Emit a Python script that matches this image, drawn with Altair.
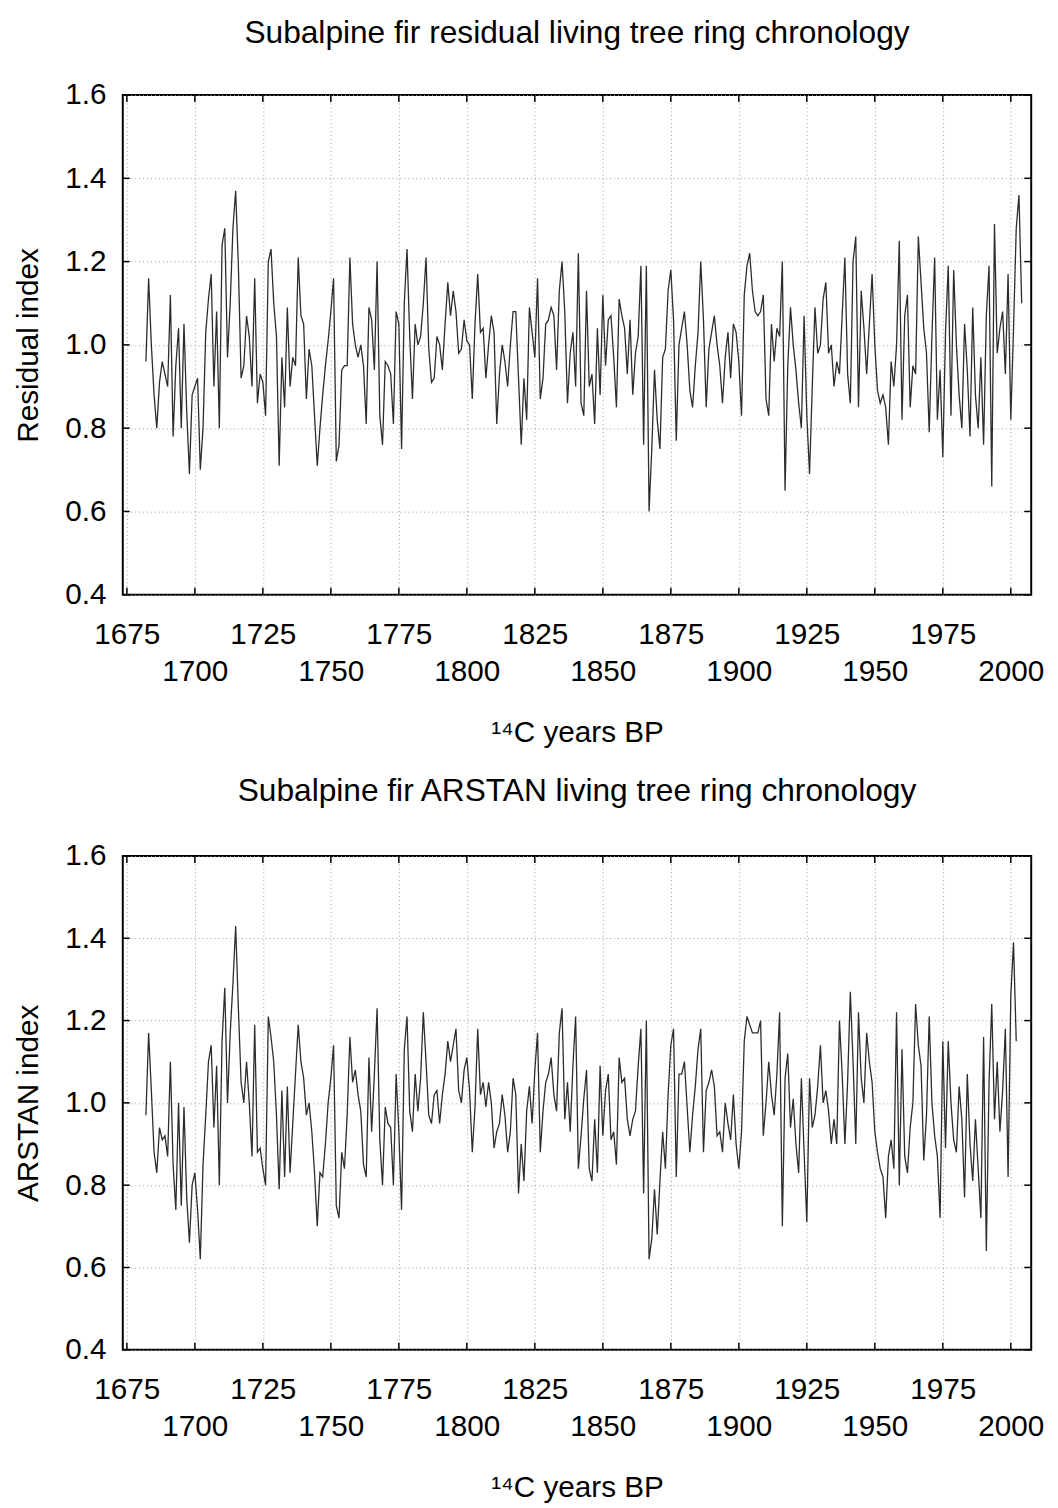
import altair as alt
import pandas as pd

# ---------------- data ----------------
res_start = 1682
residual = [
    0.96, 1.16, 1.00, 0.88, 0.80, 0.91, 0.96, 0.93, 0.90, 1.12,
    0.78, 0.95, 1.04, 0.80, 1.05, 0.84, 0.69, 0.88, 0.90, 0.92,
    0.70, 0.80, 1.03, 1.11, 1.17, 0.90, 1.08, 0.80, 1.24, 1.28,
    0.97, 1.10, 1.28, 1.37, 1.19, 0.92, 0.95, 1.07, 1.02, 0.90,
    1.16, 0.86, 0.93, 0.91, 0.83, 1.20, 1.23, 1.10, 1.02, 0.71,
    0.97, 0.85, 1.09, 0.90, 0.97, 0.95, 1.21, 1.07, 1.05,
    0.87, 0.99, 0.95, 0.83, 0.71, 0.80, 0.88, 0.95, 1.01, 1.08,
    1.16, 0.72, 0.76, 0.94, 0.95, 0.95, 1.21, 1.05, 1.00, 0.97,
    1.00, 0.95, 0.81, 1.09, 1.06, 0.94, 1.20, 0.83, 0.76, 0.96,
    0.95, 0.93, 0.81, 1.08, 1.05, 0.75, 1.10, 1.23, 1.02, 0.87,
    1.05, 1.00, 1.02, 1.10, 1.21, 0.99, 0.91, 0.92, 1.02, 1.00,
    0.94, 1.05, 1.15, 1.07, 1.13, 1.08, 0.98, 0.99, 1.06, 1.01,
    1.00, 0.87, 1.05, 1.17, 1.03, 1.04, 0.92,
    1.00, 1.07, 1.03, 0.81, 0.93, 1.00, 0.96, 0.90, 1.00, 1.08,
    1.08, 0.92, 0.76, 0.92, 0.82, 1.09, 1.03, 0.97, 1.16, 0.87,
    0.92, 1.05, 1.06, 1.09, 1.07, 0.94, 1.13, 1.20, 1.08, 0.86,
    0.98, 1.03, 0.90, 1.22, 0.86, 0.83, 1.13, 0.90, 0.93, 0.81,
    1.04, 0.88, 1.12, 0.95, 1.06, 1.07, 0.97, 0.85, 1.11, 1.07,
    1.04, 0.93, 1.06, 0.88, 0.98, 1.02, 1.19, 0.76, 1.19, 0.60,
    0.75, 0.94, 0.82, 0.75, 0.97, 0.99, 1.13, 1.18, 1.06, 0.77,
    1.00,
    1.04, 1.08, 1.00, 0.89, 0.85, 0.95, 1.03, 1.20, 1.06, 0.85,
    0.99, 1.03, 1.07, 1.00, 0.95, 0.86, 0.97, 1.03, 0.92, 1.05,
    1.03, 0.96, 0.83, 1.12, 1.19, 1.22, 1.13, 1.08, 1.07, 1.08,
    1.12, 0.87, 0.83, 1.05, 0.96, 1.04, 1.02, 1.20, 0.65, 0.95,
    1.09, 1.00, 0.94, 0.86, 0.80, 1.07, 0.83, 0.69, 0.90, 1.09,
    0.98, 1.00, 1.11, 1.15, 0.98, 1.00, 0.90, 0.96, 0.93, 1.07,
    1.21, 0.93, 0.86, 1.20, 1.26,
    0.85, 1.13, 1.04, 0.93, 1.05, 1.17, 1.00, 0.89, 0.86, 0.88,
    0.85, 0.76, 0.96, 0.90, 1.00, 1.25, 0.82, 1.07, 1.12, 0.85,
    0.95, 0.93, 1.26, 1.15, 1.04, 0.98, 0.79, 1.02, 1.21, 0.82,
    0.94, 0.73, 1.03, 1.19, 0.83, 1.18, 1.00, 0.88, 0.80, 1.05,
    0.94, 0.78, 1.09, 0.88, 0.80, 0.97, 0.76, 1.07, 1.19, 0.66,
    1.29, 0.98, 1.04, 1.08, 0.93, 1.17, 0.82, 1.04, 1.28, 1.36,
    1.10,
]

ars_start = 1682
arstan = [
    0.97, 1.17, 1.03, 0.88, 0.83, 0.94, 0.91, 0.92, 0.87, 1.10,
    0.85, 0.74, 1.00, 0.75, 0.99, 0.77, 0.66, 0.80, 0.83, 0.74,
    0.62, 0.85, 0.97, 1.10, 1.14, 0.94, 1.09, 0.80, 1.15, 1.28,
    1.00, 1.17, 1.29, 1.43, 1.23, 1.05, 1.00, 1.10, 1.00, 0.87,
    1.19, 0.88, 0.89, 0.84, 0.80, 1.21, 1.16, 1.10, 0.97, 0.79,
    1.03, 0.82, 1.04, 0.83, 0.95, 1.07, 1.19, 1.10, 1.06, 0.97,
    1.00,
    0.93, 0.83, 0.70, 0.83, 0.82, 0.90, 1.00, 1.06, 1.14, 0.75,
    0.72, 0.88, 0.84, 0.97, 1.16, 1.05, 1.08, 1.02, 0.98, 0.85,
    0.82, 1.11, 0.93, 1.07, 1.23, 0.91, 0.80, 0.99, 0.95, 0.94,
    0.80, 1.07, 0.93, 0.74, 1.13, 1.21, 0.98, 0.93, 1.07, 0.98,
    1.06, 1.22, 1.10, 0.97, 0.95, 1.02, 1.03, 0.95, 1.02, 1.07,
    1.15, 1.10, 1.14, 1.18, 1.03, 1.00, 1.08, 1.11, 1.03, 0.88,
    0.99, 1.18, 1.02, 1.05, 0.99, 1.05, 1.00, 0.89,
    0.93, 0.95, 1.02, 0.97, 0.88, 0.93, 1.06, 1.02, 0.78, 0.90,
    0.81, 0.98, 1.04, 0.95, 1.08, 1.17, 0.88, 0.98, 1.05, 1.07,
    1.11, 1.02, 0.98, 1.17, 1.23, 0.96, 1.05, 0.93, 1.09, 1.21,
    0.84, 0.92, 1.01, 1.08, 0.84, 0.81, 0.96, 0.83, 1.09, 0.92,
    1.03, 1.07, 0.91, 0.93, 0.85, 1.11, 1.05, 1.06, 0.96, 0.92,
    0.96, 0.98, 1.09, 1.18, 0.78, 1.20, 0.62, 0.67, 0.79, 0.68,
    0.81, 0.93, 0.84, 1.02, 1.14, 1.18, 0.82, 1.07,
    1.07, 1.10, 0.99, 0.88, 0.97, 1.04, 1.13, 1.18, 0.88, 1.03,
    1.05, 1.08, 1.04, 0.92, 0.93, 0.88, 1.00, 0.95, 0.91, 1.02,
    0.90, 0.84, 0.93, 1.15, 1.21, 1.19, 1.17, 1.17, 1.17, 1.20,
    0.92, 1.00, 1.10, 1.02, 0.97, 1.07, 1.22, 0.70, 1.06, 1.12,
    0.94, 1.01, 0.90, 0.83, 1.06, 0.88, 0.71, 1.06, 0.94, 0.97,
    1.04, 1.14, 1.00, 1.03, 0.98, 0.90, 0.96, 0.90, 1.20, 1.07,
    0.90, 1.05, 1.27, 1.10, 0.90, 1.22, 1.06, 1.00,
    1.17, 1.10, 1.05, 0.93, 0.88, 0.84, 0.82, 0.72, 0.87, 0.91,
    0.84, 1.22, 0.80, 1.13, 0.87, 0.83, 0.94, 1.00, 1.24, 1.14,
    1.09, 0.86, 0.97, 1.21, 1.00, 0.92, 0.87, 0.72, 1.15, 0.89,
    1.15, 1.00, 0.91, 0.88, 1.04, 0.96, 0.77, 1.07, 0.90, 0.81,
    0.96, 0.84, 0.72, 1.16, 0.64, 1.05, 1.24, 0.96, 1.10, 0.93,
    1.03, 1.18, 0.82, 1.26, 1.39, 1.15,
]

x_ticks = [1675, 1700, 1725, 1750, 1775, 1800, 1825, 1850, 1875, 1900, 1925, 1950, 1975, 2000]
y_ticks = [0.4, 0.6, 0.8, 1.0, 1.2, 1.4, 1.6]

titles = ["Subalpine fir residual living tree ring chronology",
          "Subalpine fir ARSTAN living tree ring chronology"]
y_titles = ["Residual index", "ARSTAN index"]
x_title = "¹⁴C years BP"

# ---------------- layout ----------------
W = 918
TICK = 7
FONT = "Liberation Sans"
x_domain = [1673.5, 2007.5]
GRID = dict(grid=True, gridColor="#9a9a9a", gridDash=[1, 3], gridWidth=1)


def make_axes(ytitle):
    xaxis = alt.Axis(
        values=x_ticks, format="d", title=x_title,
        labelExpr="datum.value % 50 == 0 ? ['', datum.label] : datum.label",
        labelFont=FONT, labelFontSize=30, labelColor="black",
        labelPadding=25, labelLineHeight=38, labelOverlap=False, labelFlush=False,
        titleFont=FONT, titleFontSize=30, titleFontWeight="normal", titleColor="black",
        titlePadding=31, tickSize=0, domain=False, **GRID)
    yaxis = alt.Axis(
        values=y_ticks, format=".1f", title=ytitle,
        labelFont=FONT, labelFontSize=30, labelColor="black", labelPadding=17,
        titleFont=FONT, titleFontSize=30, titleFontWeight="normal", titleColor="black",
        titlePadding=21, tickSize=0, domain=False, **GRID)
    return xaxis, yaxis


def panel(values, start, title, ytitle, H, title_offset):
    df = pd.DataFrame({"year": list(range(start, start + len(values))), "index": values})
    xt = pd.DataFrame({"year": x_ticks})
    yt = pd.DataFrame({"index": y_ticks})
    xaxis, yaxis = make_axes(ytitle)

    xscale = alt.Scale(domain=x_domain, nice=False, zero=False)
    yscale = alt.Scale(domain=[0.4, 1.6], nice=False, zero=False)
    X = alt.X("year:Q", scale=xscale, axis=xaxis)
    Y = alt.Y("index:Q", scale=yscale, axis=yaxis)

    line = alt.Chart(df).mark_line(color="#2c2c2c", strokeWidth=1.3).encode(x=X, y=Y)

    tick_style = dict(color="black", strokeWidth=1.5)
    xb = alt.Chart(xt).mark_rule(**tick_style).encode(
        x=X, y=alt.value(H), y2=alt.value(H - TICK))
    xtop = alt.Chart(xt).mark_rule(**tick_style).encode(
        x=X, y=alt.value(0), y2=alt.value(TICK))
    yl = alt.Chart(yt).mark_rule(**tick_style).encode(
        y=Y, x=alt.value(0), x2=alt.value(TICK))
    yr = alt.Chart(yt).mark_rule(**tick_style).encode(
        y=Y, x=alt.value(W), x2=alt.value(W - TICK))

    return alt.layer(line, xb, xtop, yl, yr).properties(
        width=W, height=H,
        title=alt.TitleParams(title, font=FONT, fontSize=32,
                              fontWeight="normal", color="black",
                              anchor="middle", offset=title_offset),
    )


top = panel(residual, res_start, titles[0], y_titles[0], 505, 31)
bottom = panel(arstan, ars_start, titles[1], y_titles[1], 499, 34)

chart = alt.vconcat(top, bottom, spacing=26).configure_view(
    stroke="black", strokeWidth=2
).properties(
    background="white",
    padding={"left": 5, "right": 5, "top": 0, "bottom": 0},
)

chart.save("out.html", embed_options={"renderer": "svg", "actions": False})
